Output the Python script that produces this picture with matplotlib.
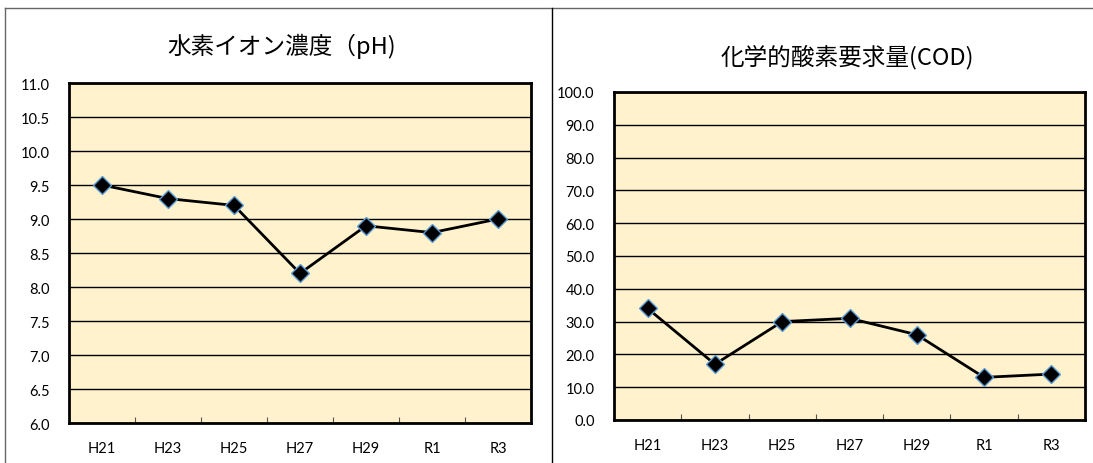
import numpy as np
import matplotlib.pyplot as plt
from matplotlib.lines import Line2D

plt.rcParams['font.family'] = ['Lato', 'Noto Sans CJK JP', 'DejaVu Sans']

# 年度ラベル
nendo = ['H21', 'H23', 'H25', 'H27', 'H29', 'R1', 'R3']
# 水素イオン濃度 (pH)
ph_vals = [9.5, 9.3, 9.2, 8.2, 8.9, 8.8, 9.0]
# 化学的酸素要求量 (COD)
cod_vals = [34.0, 17.0, 30.0, 31.0, 26.0, 13.0, 14.0]

ph_ticks = np.arange(6.0, 11.01, 0.5)
cod_ticks = np.arange(0.0, 100.01, 10.0)

BG = '#FFF2CC'
EDGE = '#5B9BD5'


def draw_panel(ax, values, yticks, ylim):
    x = np.arange(len(nendo))
    ax.set_facecolor(BG)
    ax.set_axisbelow(True)
    ax.yaxis.grid(True, color='black', linewidth=1.0)
    ax.plot(x, values, color='black', linewidth=2, marker='D', markersize=9.5,
            markerfacecolor='black', markeredgecolor=EDGE, markeredgewidth=1.0,
            zorder=3)
    ax.set_xlim(-0.5, len(nendo) - 0.5)
    ax.set_ylim(*ylim)
    ax.set_yticks(yticks)
    ax.set_yticklabels([f'{v:.1f}' for v in yticks])
    ax.set_xticks(x)
    ax.set_xticklabels(nendo)
    ax.set_xticks(np.arange(0.5, len(nendo) - 1, 1.0), minor=True)
    ax.tick_params(axis='x', which='major', length=0, pad=13, labelsize=10.5)
    ax.tick_params(axis='x', which='minor', direction='in', length=4,
                   width=0.8, color='#555555')
    ax.tick_params(axis='y', length=0, pad=14, labelsize=10.5)
    for s in ax.spines.values():
        s.set_linewidth(2)
        s.set_color('black')


fig = plt.figure(figsize=(10.93, 4.64), dpi=100)

ax1 = fig.add_axes([69 / 1093, 40 / 464, 462 / 1093, 340 / 464])
draw_panel(ax1, ph_vals, ph_ticks, (6.0, 11.0))

ax2 = fig.add_axes([614 / 1093, 43 / 464, 471 / 1093, 328 / 464])
draw_panel(ax2, cod_vals, cod_ticks, (0.0, 100.0))

fig.text(282 / 1093, 1 - 46 / 464, '水素イオン濃度（pH)', ha='center', va='center',
         fontsize=17, family=['Noto Sans CJK JP', 'DejaVu Sans'])
fig.text(847 / 1093, 1 - 57 / 464, '化学的酸素要求量(COD)', ha='center', va='center',
         fontsize=17, family=['Noto Sans CJK JP', 'DejaVu Sans'])

# 外枠
border = dict(color='#666666', linewidth=1.0, transform=fig.transFigure)
fig.add_artist(Line2D([5 / 1093, 5 / 1093], [0, 1 - 9 / 464], **border))
fig.add_artist(Line2D([5 / 1093, 1], [1 - 9 / 464, 1 - 9 / 464], **border))
fig.add_artist(Line2D([552 / 1093, 552 / 1093], [0, 1 - 9 / 464], color='black',
                      linewidth=1.0, transform=fig.transFigure))

fig.savefig('out.png', dpi=100)
